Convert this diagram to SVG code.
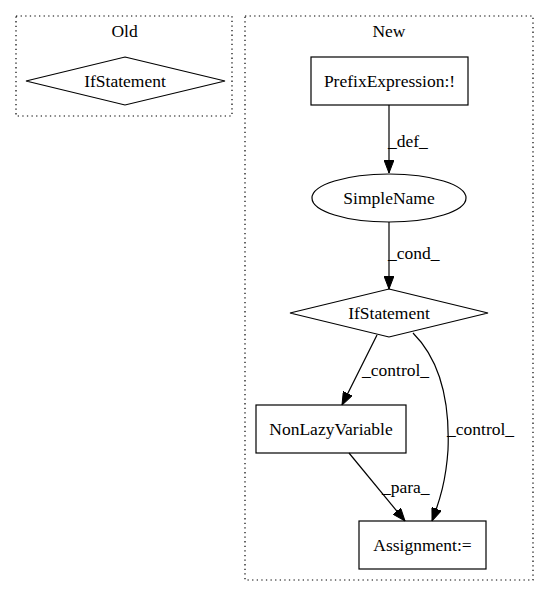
<svg xmlns="http://www.w3.org/2000/svg" width="549" height="596" viewBox="0 0 549 596">
<style>
text{font-family:"Liberation Serif","Times New Roman",serif;font-size:17.5px;fill:#000}
.c{text-anchor:middle}
.cl{fill:none;stroke:#000;stroke-width:1.2;stroke-dasharray:1.3,3.3}
.n{fill:none;stroke:#000;stroke-width:1.2}
.e{fill:none;stroke:#000;stroke-width:1.2}
</style>
<defs>
<marker id="a" markerWidth="13" markerHeight="10" refX="13" refY="5" orient="auto" markerUnits="userSpaceOnUse">
<polygon points="0,0 13,5 0,10" fill="#000" stroke="#000"/>
</marker>
</defs>
<rect width="549" height="596" fill="#fff"/>
<g id="cluster_old">
<rect class="cl" x="16" y="16" width="216" height="100"/>
<text class="c" x="124.5" y="37">Old</text>
</g>
<g id="cluster_new">
<rect class="cl" x="245" y="16" width="288" height="564"/>
<text class="c" x="389" y="37">New</text>
</g>
<g id="old_if">
<polygon class="n" points="125,57 225,81 125,105 26,81"/>
<text class="c" x="125" y="87">IfStatement</text>
</g>
<g id="prefix">
<rect class="n" x="311" y="57" width="157" height="48"/>
<text class="c" x="389.5" y="87">PrefixExpression:!</text>
</g>
<g id="simplename">
<ellipse class="n" cx="389" cy="198" rx="77" ry="24"/>
<text class="c" x="389" y="204">SimpleName</text>
</g>
<g id="new_if">
<polygon class="n" points="389,289 488,313 389,337 290,313"/>
<text class="c" x="389" y="319">IfStatement</text>
</g>
<g id="nonlazy">
<rect class="n" x="256" y="405" width="150" height="48"/>
<text class="c" x="331" y="435">NonLazyVariable</text>
</g>
<g id="assignment">
<rect class="n" x="359" y="521" width="127" height="48"/>
<text class="c" x="422.5" y="551">Assignment:=</text>
</g>
<g id="edges">
<path class="e" d="M389,105 L389,173" marker-end="url(#a)"/>
<text x="388" y="147">_def_</text>
<path class="e" d="M389,222 L389,289" marker-end="url(#a)"/>
<text x="388" y="259">_cond_</text>
<path class="e" d="M377,335 L342,405" marker-end="url(#a)"/>
<text x="362" y="376">_control_</text>
<path class="e" d="M413,333 C440,360 450,400 448,450 C446,480 440,500 432,521" marker-end="url(#a)"/>
<text x="447" y="435">_control_</text>
<path class="e" d="M349,453 L405,521" marker-end="url(#a)"/>
<text x="382" y="493">_para_</text>
</g>
</svg>
